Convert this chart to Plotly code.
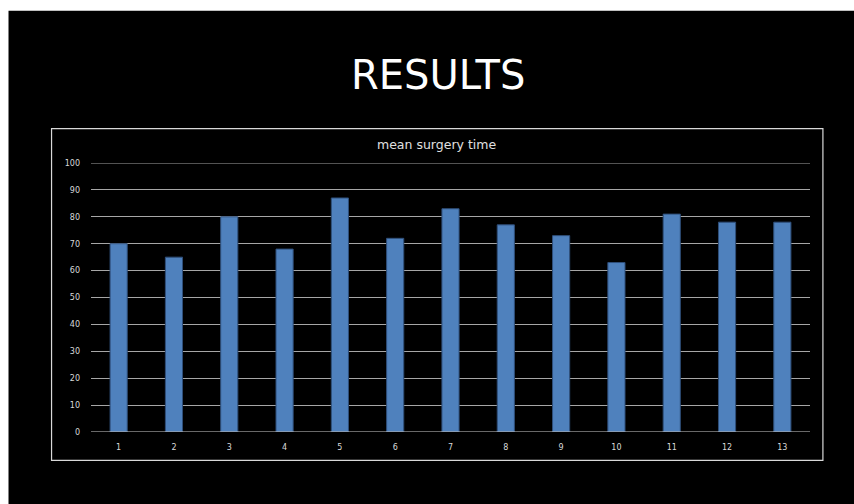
import plotly.graph_objects as go

categories = [str(i) for i in range(1, 14)]
mean_time = [70, 65, 80, 68, 87, 72, 83, 77, 73, 63, 81, 78, 78]
y_ticks = [0, 10, 20, 30, 40, 50, 60, 70, 80, 90, 100]

W, H = 854, 504
ML, MR, MT, MB = 91.4, 44.4, 162.5, 72

def px(x):
    return (x - ML) / (W - ML - MR)

def py(y):
    return (H - MB - y) / (H - MT - MB)

fig = go.Figure(go.Bar(
    x=categories, y=mean_time,
    marker=dict(color="#4f81bd", line=dict(color="#2f4f7a", width=1)),
    width=0.31,
))

fig.update_layout(
    width=W, height=H,
    margin=dict(l=ML, r=MR, t=MT, b=MB, pad=0),
    paper_bgcolor="white", plot_bgcolor="black",
    showlegend=False,
    font=dict(family="DejaVu Sans", color="#d9d9d9", size=8),
    xaxis=dict(type="category", showgrid=False, zeroline=False, showline=False,
               ticks="", ticklabelstandoff=9, tickfont=dict(size=8, color="#d9d9d9")),
    yaxis=dict(range=[0, 100], tickvals=y_ticks, showgrid=True, gridcolor="#a6a6a6",
               gridwidth=1.2, zeroline=False, showline=False, ticks="",
               ticklabelstandoff=10, tickfont=dict(size=8, color="#d9d9d9")),
    shapes=[
        dict(type="rect", xref="paper", yref="paper", layer="below",
             x0=px(9), x1=px(W + 2), y0=py(10), y1=py(H + 2),
             fillcolor="black", line=dict(width=0)),
        dict(type="rect", xref="paper", yref="paper", layer="above",
             x0=px(52), x1=px(822.5), y0=py(128), y1=py(460.5),
             fillcolor="rgba(0,0,0,0)", line=dict(color="#d9d9d9", width=1.2)),
        dict(type="line", xref="paper", yref="y", layer="above",
             x0=0, x1=1, y0=100, y1=100, line=dict(color="#a6a6a6", width=1.2)),
        dict(type="line", xref="paper", yref="y", layer="above",
             x0=0, x1=1, y0=0, y1=0, line=dict(color="#d0d0d0", width=1.2)),
    ],
    annotations=[
        dict(text="RESULTS", xref="paper", yref="paper", x=px(438), y=py(74),
             showarrow=False, xanchor="center", yanchor="middle",
             font=dict(family="DejaVu Sans", size=40, color="white")),
        dict(text="mean surgery time", xref="paper", yref="paper", x=px(437), y=py(144),
             showarrow=False, xanchor="center", yanchor="middle",
             font=dict(family="DejaVu Sans", size=12.5, color="#e0e0e0")),
    ],
)

fig.write_html("out.html")
